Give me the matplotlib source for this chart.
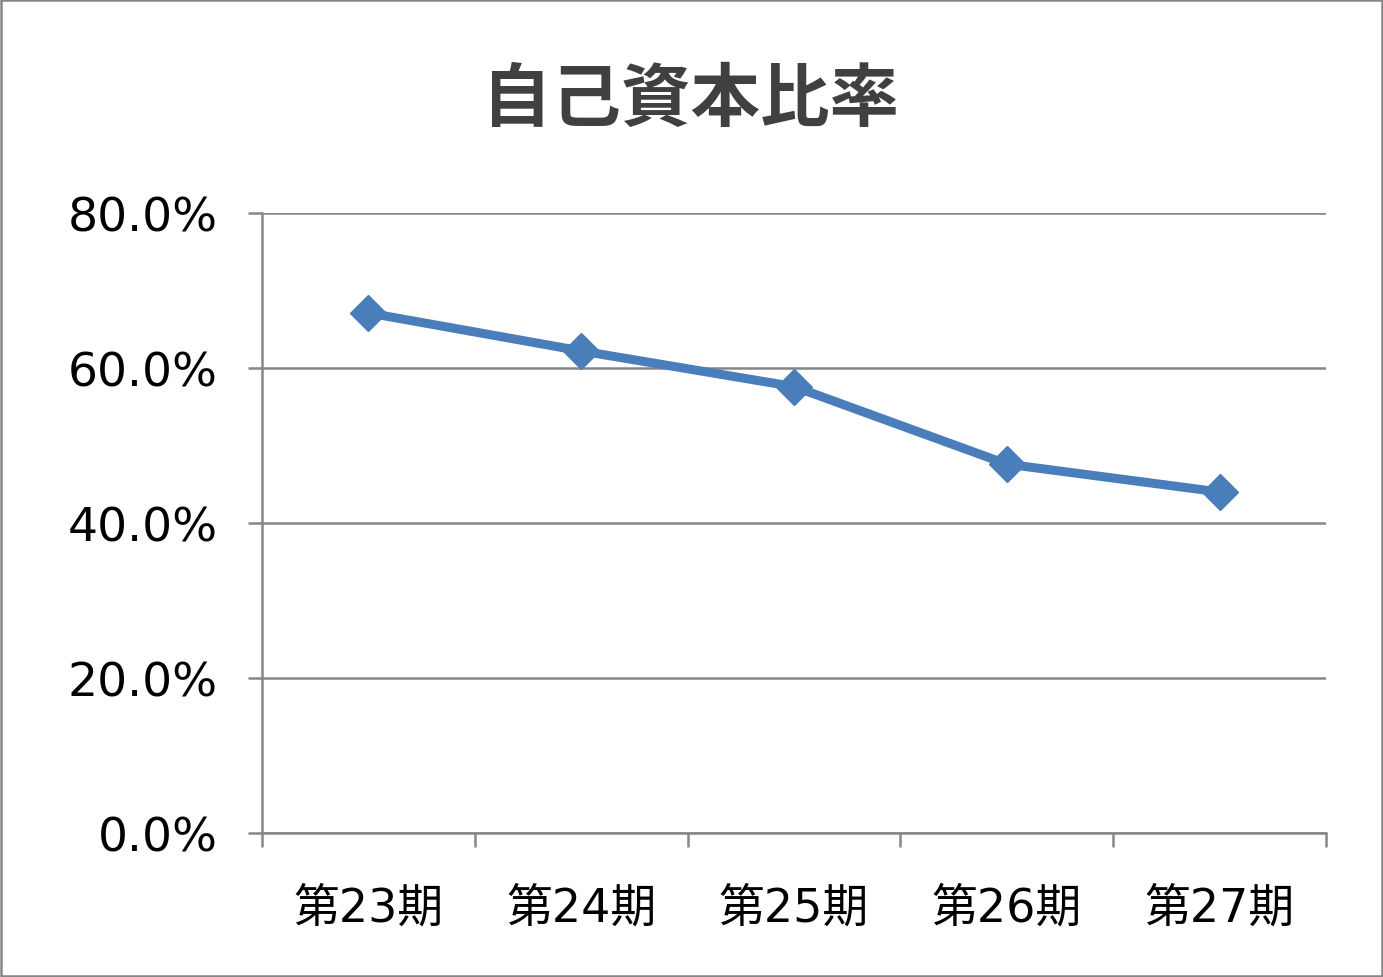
import matplotlib
matplotlib.use("Agg")
import matplotlib.pyplot as plt
from matplotlib.ticker import FixedLocator, FuncFormatter
from matplotlib.patches import Rectangle

title = "自己資本比率"
categories = ["第23期", "第24期", "第25期", "第26期", "第27期"]
values = [67.1, 62.2, 57.6, 47.6, 44.0]
yticks = [0, 20, 40, 60, 80]

plt.rcParams['font.family'] = ['DejaVu Sans', 'Noto Sans CJK JP']

fig = plt.figure(figsize=(13.83, 9.78), dpi=100)
ax = fig.add_axes([262/1383, 1-834/978, (1326-262)/1383, (834-214)/978])

grid_c = "#868686"
line_c = "#4A7EBB"

x = list(range(len(categories)))
ax.plot(x, values, color=line_c, lw=6.5, marker='D', ms=18, mfc=line_c, mec=line_c,
        solid_joinstyle='round', zorder=5, clip_on=False)

ax.set_xlim(-0.5, len(categories) - 0.5)
ax.set_ylim(0, 80)
ax.set_yticks(yticks)
ax.yaxis.set_major_formatter(FuncFormatter(lambda v, p: f"{v:.1f}%"))
ax.set_xticks(x)
ax.set_xticklabels(categories, family=['DejaVu Sans', 'Noto Sans CJK JP'])
ax.xaxis.set_minor_locator(FixedLocator([i - 0.5 for i in range(len(categories) + 1)]))

ax.tick_params(axis='x', which='major', length=0, pad=38, labelsize=33, colors='black')
ax.tick_params(axis='x', which='minor', length=10, width=1.8, color=grid_c, direction='out')
ax.tick_params(axis='y', which='major', length=10, width=1.8, color=grid_c, pad=22,
               labelsize=34, labelcolor='black')

ax.grid(axis='y', color=grid_c, lw=1.8)
ax.set_axisbelow(True)
for s in ['top', 'right']:
    ax.spines[s].set_visible(False)
for s in ['left', 'bottom']:
    ax.spines[s].set_color(grid_c)
    ax.spines[s].set_linewidth(1.8)

fig.text(691/1383, 1-101/978, title, ha='center', va='center', fontsize=50,
         fontweight='bold', color='#404040', family=['Noto Sans CJK JP', 'DejaVu Sans'])

fig.patches.append(Rectangle((0.001, 0.001), 0.998, 0.998, transform=fig.transFigure,
                             fill=False, edgecolor=grid_c, lw=1.8))

fig.savefig("out.png", dpi=100)
